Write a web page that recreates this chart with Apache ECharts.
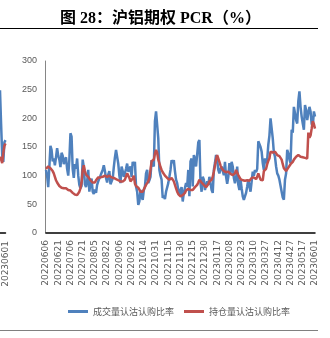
<!DOCTYPE html>
<html><head><meta charset="utf-8">
<script src="https://cdn.jsdelivr.net/npm/echarts@6/dist/echarts.min.js"></script>
<style>html,body{margin:0;padding:0;background:#fff}#c{width:330px;height:338px}</style>
</head><body><div id="c"></div>
<script>
const titleText = '图 28：沪铝期权 PCR（%）';
const seriesNames = ['成交量认沽认购比率', '持仓量认沽认购比率'];
const startDate = '2022-06-06';
const endDate = '2023-06-01';
const holidays = ['2022-09-12','2022-10-03','2022-10-04','2022-10-05','2022-10-06','2022-10-07',
  '2023-01-02','2023-01-23','2023-01-24','2023-01-25','2023-01-26','2023-01-27',
  '2023-04-05','2023-05-01','2023-05-02','2023-05-03'];
const tickLabels = ['20220606','20220621','20220706','20220721','20220805','20220822','20220906','20220922',
  '20221014','20221031','20221115','20221130','20221215','20221230','20230117','20230208','20230223',
  '20230310','20230327','20230412','20230427','20230517','20230601'];
const volumeRatio = [
  110,100,80,115,152,145,125,130,118,132,
  148,135,128,115,140,135,120,128,132,112,
  100,128,174,168,112,96,120,112,130,100,
  84,78,82,128,115,85,80,90,110,72,
  88,95,72,68,76,70,84,90,92,100,
  105,110,118,108,96,88,102,108,85,85,
  95,115,132,145,142,121,100,87,116,108,
  98,104,112,121,107,110,116,98,124,118,
  124,81,72,49,55,75,64,58,75,81,
  104,110,87,92,98,127,120,116,195,212,
  214,165,110,100,93,61,65,59,72,75,
  87,98,110,127,122,127,108,93,87,75,
  66,75,80,55,70,72,87,81,110,64,
  125,130,81,136,130,116,118,158,162,87,
  72,98,93,75,78,90,84,98,87,75,
  70,110,122,136,127,110,104,112,116,118,
  101,124,98,86,98,122,104,124,116,96,
  87,95,116,84,75,93,78,64,58,55,
  70,81,93,81,72,75,107,100,110,106,
  112,160,157,150,142,122,110,130,122,128,
  154,170,200,203,165,140,133,116,104,100,
  93,90,72,62,58,93,104,145,139,128,
  122,180,175,220,209,197,191,230,247,220,
  203,191,180,223,215,197,209,220,212,190,
  186,212,203];
const oiRatio = [
  112,115,116,114,113,110,108,104,98,92,
  88,85,82,80,79,78,78,80,78,76,
  75,76,74,72,70,69,67,65,66,68,
  72,78,88,110,118,108,102,100,98,95,
  92,90,88,87,88,92,95,97,98,97,
  100,98,96,100,99,98,101,100,98,97,
  96,96,95,94,92,92,91,90,88,90,
  92,93,92,104,102,96,90,90,95,100,
  86,82,80,79,76,72,70,72,76,80,
  84,87,90,96,110,125,122,128,138,145,
  140,128,122,115,110,106,104,100,98,96,
  94,93,95,96,97,90,84,78,72,68,
  66,64,65,66,68,70,74,76,77,76,
  75,76,75,78,80,82,84,88,93,90,
  88,87,84,82,80,83,85,90,88,93,
  98,107,110,128,136,138,124,118,113,110,
  108,107,106,104,107,104,103,104,101,100,
  104,110,113,101,98,94,93,92,92,91,
  90,92,93,91,90,96,99,97,95,94,
  98,104,101,93,90,92,108,111,112,120,
  126,130,142,145,140,138,142,141,136,133,
  134,136,128,120,113,110,108,107,114,116,
  120,122,124,128,130,133,134,136,135,133,
  133,132,133,131,130,130,175,166,170,182,
  195,190,182];
// fragment of the neighbouring chart visible at the left edge
const prevCategories = ['20230525','20230526','20230529','20230530','20230531','20230601'];
const prevVolumeRatio = [249,190,135,124,158,162];
const prevOiRatio = [133,128,122,140,152,156];

function buildCategories() {
  const out = [];
  let d = new Date(startDate + 'T00:00:00Z');
  const end = new Date(endDate + 'T00:00:00Z');
  while (d <= end) {
    const w = d.getUTCDay();
    const s = d.toISOString().slice(0, 10);
    if (w !== 0 && w !== 6 && holidays.indexOf(s) < 0) out.push(s.replace(/-/g, ''));
    d = new Date(d.getTime() + 86400000);
  }
  return out;
}
const categories = buildCategories();

const BLUE = '#4F81BD', RED = '#C0504D', GREY = '#595959';
const chart = echarts.init(document.getElementById('c'), null, {renderer: 'canvas'});
chart.setOption({
  animation: false,
  backgroundColor: '#fff',
  title: {
    text: titleText, left: 55, top: 6,
    textStyle: {fontSize: 16, fontWeight: 'bold', color: '#000', fontFamily: '"Liberation Serif","Noto Sans CJK SC",serif'}
  },
  graphic: [
    {type: 'line', shape: {x1: 0, y1: 28.5, x2: 318, y2: 28.5}, style: {stroke: '#000', lineWidth: 1}},
    {type: 'line', shape: {x1: 0, y1: 330.5, x2: 318, y2: 330.5}, style: {stroke: '#808080', lineWidth: 1}}
  ],
  legend: {
    data: seriesNames, left: 63, top: 302, icon: 'rect', itemWidth: 20, itemHeight: 3, itemGap: 10,
    textStyle: {fontSize: 9, color: GREY, fontFamily: '"Noto Sans CJK SC",sans-serif'}
  },
  grid: [
    {left: 46, right: 15, top: 61, bottom: 105},
    {left: 0, right: 324.5, top: 61, bottom: 105}
  ],
  xAxis: [
    {
      type: 'category', gridIndex: 0, data: categories, boundaryGap: false,
      axisLine: {lineStyle: {color: '#000', width: 1.5}}, axisTick: {show: false},
      axisLabel: {
        rotate: 90, margin: 7, fontSize: 9, color: GREY, fontFamily: '"DejaVu Sans",sans-serif',
        interval: function (idx, val) { return tickLabels.indexOf(val) >= 0; }
      }
    },
    {
      type: 'category', gridIndex: 1, data: prevCategories, boundaryGap: false,
      axisLine: {lineStyle: {color: '#000', width: 1.5}}, axisTick: {show: false},
      axisLabel: {
        rotate: 90, margin: 8, fontSize: 9, color: GREY, fontFamily: '"DejaVu Sans",sans-serif',
        interval: function (idx, val) { return val === '20230601'; }
      }
    }
  ],
  yAxis: [
    {
      type: 'value', gridIndex: 0, min: 0, max: 300, interval: 50, offset: 1,
      axisLine: {show: true, lineStyle: {color: '#868686', width: 1}}, axisTick: {show: false},
      splitLine: {show: false},
      axisLabel: {fontSize: 9, color: GREY, margin: 8, fontFamily: '"Liberation Sans",sans-serif'}
    },
    {type: 'value', gridIndex: 1, min: 0, max: 300, show: false, splitLine: {show: false}}
  ],
  series: [
    {name: seriesNames[0], type: 'line', xAxisIndex: 0, yAxisIndex: 0, data: volumeRatio, symbol: 'none',
      lineStyle: {color: BLUE, width: 2.5}, itemStyle: {color: BLUE}},
    {name: seriesNames[1], type: 'line', xAxisIndex: 0, yAxisIndex: 0, data: oiRatio, symbol: 'none',
      lineStyle: {color: RED, width: 2.5}, itemStyle: {color: RED}},
    {name: 'prevVolume', type: 'line', xAxisIndex: 1, yAxisIndex: 1, data: prevVolumeRatio, symbol: 'none',
      lineStyle: {color: BLUE, width: 2.5}, itemStyle: {color: BLUE}},
    {name: 'prevOi', type: 'line', xAxisIndex: 1, yAxisIndex: 1, data: prevOiRatio, symbol: 'none',
      lineStyle: {color: RED, width: 2.5}, itemStyle: {color: RED}}
  ]
});
</script></body></html>
